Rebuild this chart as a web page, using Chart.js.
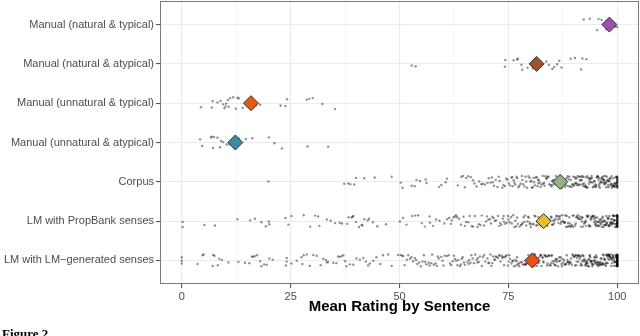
<!DOCTYPE html>
<html>
<head>
<meta charset="utf-8">
<script src="https://cdn.jsdelivr.net/npm/chart.js@4.4.1/dist/chart.umd.min.js"></script>
<style>
  html, body { margin: 0; padding: 0; background: #fff; overflow: hidden; }
  #wrap { position: relative; width: 640px; height: 336px; overflow: hidden; }
  #fig { position: absolute; left: 2px; top: 326px; font: bold 13px 'Liberation Serif', serif; color: #000; }
</style>
</head>
<body>
<div id="wrap">
  <canvas id="chart" width="640" height="336"></canvas>
  <div id="fig">Figure 2</div>
</div>
<script>
const categories = [
  'Manual (natural & typical)',
  'Manual (natural & atypical)',
  'Manual (unnatural & typical)',
  'Manual (unnatural & atypical)',
  'Corpus',
  'LM with PropBank senses',
  'LM with LM\u2212generated senses'
];
const means = [98.2, 81.5, 15.9, 12.3, 86.9, 83.1, 80.5];
const meanColors = ['#9d50ad', '#a0522d', '#e35a12', '#3b8ba6', '#8fb582', '#e3bf2a', '#e4531a'];
const xTicks = [0, 25, 50, 75, 100];

// mean rating of each sentence, per source
const natTypical = [92.3, 93.7, 95.4, 95.7, 96.4, 97.5, 98.0, 98.6, 99.4, 99.5, 100];
const natAtypical = [52.8, 53.7, 74.2, 74.3, 76.2, 77.0, 77.2, 78.0, 78.2, 79.4, 80.6, 81.2, 82.3, 83.7, 84.3, 85.1, 85.5, 86.2, 86.7, 87.2, 89.3, 90.3, 91.7, 92.0, 92.9];
const unnatTypical = [4.4, 6.9, 7.1, 8.2, 8.9, 9.5, 9.8, 10.1, 10.2, 10.6, 10.8, 11.1, 11.8, 12.4, 12.8, 13.1, 14.0, 15.2, 16.4, 17.0, 18.0, 22.7, 23.8, 24.2, 28.7, 29.3, 30.1, 32.3, 35.2];
const unnatAtypical = [4.2, 4.7, 6.7, 6.9, 7.2, 7.4, 8.2, 8.8, 9.0, 9.5, 10.3, 10.9, 11.6, 12.2, 13.1, 14.7, 16.2, 20.0, 21.3, 23.0, 28.9, 33.6];
const corpus = [
  19.9, 37.3, 38.2, 38.7, 39.6, 40.0, 41.9, 44.3, 48.2, 50.3, 50.7, 52.8, 53.5, 53.9, 54.7, 56.0, 56.2, 59.1, 59.6, 60.6, 60.9, 63.4, 64.2, 64.6, 65.0,
  65.8, 66.4, 67.7, 66.9, 68.3, 69.1, 67.2, 68.8, 69.6, 65.3,
  70.5, 71.2, 72.8, 70.9, 73.6, 71.7, 74.2, 72.1, 73.0, 74.8, 70.2, 72.5, 73.9, 71.4, 74.5,
  75.4, 76.9, 78.1, 77.3, 79.6, 75.9, 78.7, 76.2, 79.1, 77.8, 75.1, 78.4, 76.6, 79.9, 77.0, 75.7, 78.9, 76.4, 79.3, 77.5, 76.0, 78.2,
  80.3, 81.8, 83.2, 82.4, 84.7, 80.9, 83.8, 81.1, 84.1, 82.9, 80.6, 83.5, 81.5, 84.9, 82.0, 80.1, 83.0, 81.9, 84.4, 82.6, 80.8, 83.7, 81.3, 84.2, 82.2, 80.4, 83.3, 81.7,
  85.6, 87.4, 88.9, 86.2, 89.5, 85.1, 87.8, 86.7, 88.3, 89.9, 85.9, 87.1, 88.6, 86.4, 89.2, 85.3, 87.6, 86.0, 88.1, 89.7, 85.7, 87.0, 88.4, 86.9, 89.0, 85.4, 87.3, 86.5, 88.8, 89.4, 85.0, 87.9, 86.3, 88.0, 89.8, 86.8,
  90.4, 92.7, 91.3, 94.1, 93.2, 90.9, 92.0, 94.6, 91.8, 93.7, 90.2, 92.4, 91.0, 94.9, 93.4, 90.7, 92.9, 91.5, 94.3, 93.0, 90.1, 92.2, 91.7, 94.7, 93.6, 90.5, 92.6, 91.2, 94.0, 93.9, 90.8, 92.3, 91.9, 94.4, 93.1, 90.3, 92.8, 91.4, 94.8, 93.5, 90.6, 92.1, 91.6, 94.2, 93.8,
  95.3, 97.6, 96.1, 98.8, 99.4, 95.8, 97.0, 98.2, 96.7, 99.7, 95.1, 97.9, 96.4, 98.5, 99.1, 95.6, 97.3, 98.0, 96.9, 99.9, 95.0, 97.7, 96.2, 98.6, 99.3, 95.9, 97.1, 98.3, 96.6, 99.6,
  95.4, 97.4, 96.0, 98.9, 99.0, 95.7, 97.8, 98.1, 96.8, 99.5, 95.2, 97.2, 96.3, 98.4, 99.8, 95.5, 97.5, 98.7, 96.5, 99.2, 96.9, 98.0, 99.4, 97.3, 98.6, 99.7, 95.8, 99.1,
  100, 100, 100, 100, 100, 100, 100, 100, 100, 100, 100, 100, 100, 100
];
const propbank = [
  0.2, 0.2, 5.2, 7.6, 12.8, 15.7, 16.8, 18.3, 19.3, 20.1, 20.0, 23.8, 24.5, 25.2, 28.0, 29.5, 30.6, 31.3, 31.6, 33.3, 34.2, 35.2, 36.3, 36.8, 38.0, 38.3, 39.0, 39.2, 39.4, 40.0, 40.7, 41.3, 41.5, 41.9, 42.7, 43.0, 43.9, 44.9, 46.9, 50.1, 50.8,
  51.6, 52.9, 54.3, 55.8, 53.6, 56.9, 57.7, 58.4, 59.2, 55.1, 57.0,
  60.3, 61.8, 63.2, 62.4, 64.7, 66.1, 65.3, 67.9, 68.6, 69.4, 60.9, 62.0, 63.7, 65.8, 66.6, 68.2, 69.9, 61.4, 64.1, 67.3, 63.0, 66.9, 68.9, 62.7, 65.0,
  70.4, 71.9, 73.1, 74.6, 75.8, 77.2, 78.5, 79.7, 71.3, 72.6, 74.0, 76.4, 77.9, 79.1, 70.8, 72.2, 73.7, 75.3, 76.8, 78.1, 79.4, 71.6, 73.4, 74.9, 76.1, 77.6, 78.8, 70.1, 72.9, 75.0, 76.6, 78.3, 79.9, 71.0, 74.3, 75.6, 77.0, 79.5, 73.9, 78.7,
  80.2, 81.7, 82.9, 84.1, 85.6, 86.8, 87.9, 89.3, 80.8, 82.3, 83.6, 85.0, 86.2, 87.4, 88.6, 89.8, 81.2, 82.6, 84.4, 85.3, 86.5, 88.0, 89.1, 80.5, 81.9, 83.2, 84.8, 86.0, 87.1, 88.3,
  89.6, 81.4, 83.0, 84.6, 85.8, 87.7, 88.9, 80.0, 82.1, 83.9, 85.2, 86.9, 88.1, 89.4, 81.0, 82.8, 84.0, 86.4, 87.5, 88.7, 83.4, 85.5, 87.0, 89.0, 84.9, 86.6, 88.4, 81.6, 89.9, 82.4,
  90.3, 91.6, 92.8, 93.9, 94.7, 95.5, 96.3, 97.2, 98.0, 98.8, 99.5, 90.9, 92.2, 93.4, 94.2, 95.1, 96.0, 96.8, 97.6, 98.4, 99.1, 99.8, 90.6, 91.9, 93.1, 94.5, 95.3, 96.5, 97.0, 97.9,
  98.6, 99.3, 91.2, 92.5, 93.6, 94.9, 95.8, 96.6, 97.4, 98.2, 99.0, 99.7, 90.0, 91.4, 92.9, 94.0, 95.0, 96.1, 97.7, 98.5, 99.4, 90.8, 92.0, 93.3, 94.4, 95.6, 96.9, 97.3, 98.1, 98.9,
  99.6, 91.1, 92.7, 93.8, 95.2, 96.4, 97.8, 98.3, 99.2, 99.9, 91.7, 93.0, 94.8, 95.9, 96.2, 97.1, 98.7, 99.0, 90.5, 92.4, 94.1, 95.4, 96.7, 97.5, 98.6, 99.5, 93.5, 95.7, 97.9, 99.3,
  94.6, 96.6, 98.2, 99.8, 91.9, 95.0, 97.4, 99.1,
  100, 100, 100, 100, 100, 100, 100, 100, 100, 100, 100, 100, 100, 100, 100, 100, 100, 100, 100, 100, 100, 100, 100, 100
];
const lmGenerated = [
  0, 0, 0, 3.6, 4.8, 5.0, 7.1, 7.2, 7.5, 8.3, 8.6, 9.2, 10.7, 13.0, 14.5, 15.5, 16.1, 16.4, 16.8, 17.3, 18.0, 18.3, 18.9, 19.5, 20.1, 20.9, 24.1, 24.1, 23.9, 25.2,
  26.4, 27.5, 27.7, 28.0, 28.7, 29.4, 30.2, 31.0, 31.9, 32.5, 33.1, 33.3, 33.6, 34.8, 35.5, 35.9, 36.3, 36.7, 37.1, 37.5, 37.8, 38.6, 39.4, 40.1, 40.9, 41.7, 42.3, 42.8, 43.2, 44.0,
  44.7, 45.6, 46.2, 47.4, 48.2, 49.7, 50.6,
  51.2, 52.4, 53.8, 54.5, 55.9, 56.7, 57.3, 58.8, 59.6, 50.9, 52.0, 53.1, 54.9, 56.2, 57.9, 59.0, 51.7, 53.5, 55.3, 56.9, 58.3, 59.9, 52.7, 54.1, 55.6, 57.5, 58.6, 50.3,
  60.4, 61.9, 62.7, 63.5, 64.8, 65.6, 66.3, 67.1, 68.5, 69.2, 60.9, 61.3, 62.2, 63.9, 64.1, 65.0, 66.8, 67.7, 68.0, 69.7, 60.1, 61.6, 63.0, 64.5, 65.9, 66.5, 67.4, 68.9, 69.4, 62.5,
  63.3, 64.3, 66.0, 67.9, 68.2,
  70.6, 71.3, 72.1, 73.8, 74.4, 75.2, 76.9, 77.5, 78.3, 79.0, 70.2, 71.8, 72.6, 73.2, 74.9, 75.7, 76.1, 77.0, 78.8, 79.6, 70.9, 71.1, 72.9, 73.5, 74.0, 75.4, 76.6, 77.8, 78.1, 79.3,
  70.4, 71.5, 72.3, 73.0, 74.6, 75.9, 76.3, 77.2, 78.6, 79.8, 71.9, 73.6, 75.1, 76.8, 77.4, 78.9, 74.2, 79.1,
  80.4, 81.1, 82.6, 83.3, 84.9, 85.7, 86.2, 87.8, 88.5, 89.1, 80.7, 81.9, 82.2, 83.8, 84.1, 85.0, 86.6, 87.3, 88.9, 89.6, 80.1, 81.4, 82.9, 83.0, 84.5, 85.4, 86.9, 87.0, 88.2, 89.9,
  80.9, 81.6, 82.4, 83.6, 84.7, 85.9, 86.0, 87.6, 88.7, 89.3, 80.3, 81.2, 82.8, 83.4, 84.3, 85.2, 86.4, 87.9, 88.1, 89.4, 80.6, 81.8, 82.0, 83.9, 84.0, 85.6, 86.7, 87.2, 88.4, 89.7,
  81.0, 82.5, 84.4, 85.8, 87.4, 88.6, 83.1, 86.1, 89.0, 84.8,
  90.2, 91.5, 92.3, 93.7, 94.1, 95.6, 96.8, 97.3, 98.5, 99.2, 90.8, 91.1, 92.9, 93.2, 94.6, 95.0, 96.3, 97.9, 98.0, 99.6, 90.5, 91.8, 92.6, 93.4, 94.9, 95.3, 96.1, 97.6, 98.8, 99.9,
  90.0, 91.3, 92.1, 93.9, 94.3, 95.8, 96.5, 97.0, 98.2, 99.4, 90.7, 91.6, 92.8, 93.1, 94.7, 95.2, 96.9, 97.5, 98.6, 99.0, 90.4, 91.9, 92.4, 93.6, 94.0, 95.5, 96.6, 97.8, 98.3, 99.7,
  90.9, 91.2, 92.7, 93.3, 94.5, 95.9, 96.2, 97.1, 98.9, 99.3, 90.3, 91.7, 92.0, 93.8, 94.2, 95.1, 96.7, 97.4, 98.1, 99.8, 90.6, 91.4, 92.5, 93.0, 94.8, 95.7, 96.0, 97.7, 98.4, 99.1,
  91.0, 92.2, 93.5, 94.4, 95.4, 96.4, 97.2, 98.7, 99.5, 99.9, 92.9, 94.1, 95.3, 96.8, 97.6, 98.5, 99.2, 99.6, 93.7, 96.1, 97.9, 98.8, 99.4, 99.7, 95.0, 97.3, 98.2, 99.0, 99.8, 98.0,
  100, 100, 100, 100, 100, 100, 100, 100, 100, 100, 100, 100, 100, 100, 100, 100, 100, 100,
  100, 100, 100, 100, 100, 100, 100, 100, 100, 100, 100, 100, 100, 100, 100, 100, 100, 100
];
const ratingsByRow = [natTypical, natAtypical, unnatTypical, unnatAtypical, corpus, propbank, lmGenerated];

// fixed vertical jitter pattern (in category units), like geom_jitter(width = 0)
const jitter = [-0.13, 0.08, -0.02, 0.15, -0.09, 0.04, 0.12, -0.15, 0.01, -0.06, 0.10, -0.11, 0.06, -0.04,
  0.14, -0.08, 0.03, 0.11, -0.13, 0.07, -0.01, -0.14, 0.09, 0.13, -0.05, 0.02, -0.10, 0.05, -0.12];

const FONT = "'Liberation Sans', Arial, sans-serif";

const pointSets = ratingsByRow.map((vals, row) => ({
  data: vals.map((v, i) => ({x: v, y: row + jitter[(i * 7 + row * 5) % jitter.length]})),
  pointRadius: 1.2,
  pointBackgroundColor: 'rgba(0,0,0,0.43)',
  pointBorderWidth: 0,
  order: 1
}));

const meanSet = {
  data: means.map((m, i) => ({x: m, y: i})),
  pointStyle: 'rectRot',
  pointRadius: 7.5,
  pointBackgroundColor: meanColors,
  pointBorderColor: '#333',
  pointBorderWidth: 1,
  order: 0
};

const minorX = xTicks.slice(1).map((t, i) => (t + xTicks[i]) / 2);
const allX = xTicks.concat(minorX).sort((a, b) => a - b);

const panelBorder = {
  id: 'panelBorder',
  afterDatasetsDraw(chart) {
    const {ctx, chartArea: a} = chart;
    ctx.save();
    ctx.strokeStyle = '#7a7a7a';
    ctx.lineWidth = 1;
    ctx.strokeRect(a.left + 0.5, a.top + 0.5, a.right - a.left - 1, a.bottom - a.top - 1);
    ctx.restore();
  }
};

new Chart(document.getElementById('chart'), {
  type: 'scatter',
  data: { datasets: [meanSet, ...pointSets] },
  options: {
    responsive: false,
    animation: false,
    devicePixelRatio: 1,
    layout: { autoPadding: false, padding: { top: 1, right: 1, left: 0, bottom: 0 } },
    plugins: { legend: { display: false }, tooltip: { enabled: false } },
    scales: {
      x: {
        type: 'linear',
        min: -5,
        max: 105,
        afterBuildTicks: s => { s.ticks = allX.map(v => ({value: v})); },
        ticks: {
          autoSkip: false,
          maxRotation: 0,
          padding: 2,
          color: '#4d4d4d',
          font: { family: FONT, size: 11 },
          callback: v => xTicks.includes(v) ? String(v) : ''
        },
        grid: {
          color: c => xTicks.includes(c.tick.value) ? '#ebebeb' : '#f4f4f4',
          lineWidth: c => xTicks.includes(c.tick.value) ? 1.1 : 0.8,
          tickLength: 4,
          tickColor: c => xTicks.includes(c.tick.value) ? '#555' : 'rgba(0,0,0,0)'
        },
        border: { display: false },
        title: {
          display: true,
          text: 'Mean Rating by Sentence',
          color: '#000',
          font: { family: FONT, size: 15, weight: 'bold' },
          padding: { top: 0, bottom: 20 }
        },
        afterFit: s => { s.height = 52; s.paddingLeft = 0; s.paddingRight = 0; }
      },
      y: {
        type: 'linear',
        min: -0.6,
        max: 6.6,
        reverse: true,
        afterBuildTicks: s => { s.ticks = categories.map((c, i) => ({value: i})); },
        ticks: {
          autoSkip: false,
          padding: 2,
          color: '#4d4d4d',
          font: { family: FONT, size: 11 },
          callback: v => categories[v]
        },
        grid: { color: '#ebebeb', lineWidth: 1.1, tickLength: 4, tickColor: '#555' },
        border: { display: false },
        afterFit: s => { s.width = 160; s.paddingTop = 0; s.paddingBottom = 0; }
      }
    }
  },
  plugins: [panelBorder]
});
</script>
</body>
</html>
